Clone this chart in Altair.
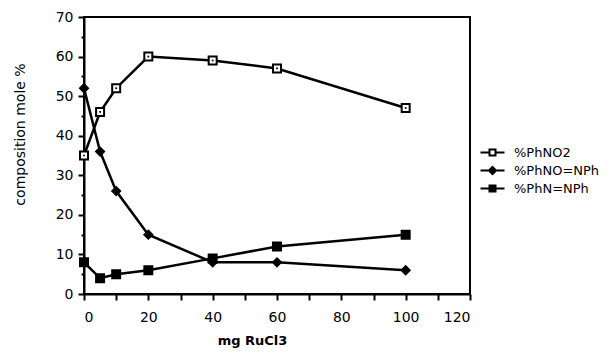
import altair as alt
import pandas as pd

mg = [0, 5, 10, 20, 40, 60, 100]
phno2 = [35, 46, 52, 60, 59, 57, 47]
phno_nph = [52, 36, 26, 15, 8, 8, 6]
phn_nph = [8, 4, 5, 6, 9, 12, 15]
series_names = ["%PhNO2", "%PhNO=NPh", "%PhN=NPh"]

rows = []
for name, vals in zip(series_names, [phno2, phno_nph, phn_nph]):
    for x, v in zip(mg, vals):
        rows.append({"mg": x, "val": v, "series": name})
df = pd.DataFrame(rows)

FONT = "DejaVu Sans"

xenc = alt.X("mg:Q", scale=alt.Scale(domain=[0, 120], nice=False),
             axis=alt.Axis(title="mg RuCl3", values=list(range(0, 121, 10)),
                           labelExpr="datum.value % 20 === 0 ? datum.label : ''",
                           tickSize=6, tickWidth=2, domainWidth=2, domainColor="black",
                           tickColor="black", labelPadding=10, labelFontSize=14,
                           labelFont=FONT, labelColor="black", grid=False,
                           titleFont=FONT, titleFontSize=13, titleFontWeight="bold",
                           titleX=168, titleY=46, titleBaseline="middle", titleColor="black"))
yenc = alt.Y("val:Q", scale=alt.Scale(domain=[0, 70], nice=False),
             axis=alt.Axis(title="composition mole %", values=list(range(0, 71, 5)),
                           labelExpr="datum.value % 10 === 0 ? datum.label : ''",
                           tickSize={"condition": {"test": "datum.value % 10 === 0", "value": 6}, "value": 3},
                           tickWidth=2, domainWidth=2, domainColor="black",
                           tickColor="black", labelPadding=5, labelFontSize=14,
                           labelFont=FONT, labelColor="black", grid=False,
                           titleFont=FONT, titleFontSize=14, titleFontWeight="normal",
                           titleX=-64, titleY=117, titleBaseline="middle", titleColor="black"))

lines = alt.Chart(df).mark_line(color="black", strokeWidth=2.5).encode(
    x=xenc, y=yenc, detail="series:N")

shape_scale = alt.Scale(domain=series_names, range=["square", "diamond", "square"])
fill_scale = alt.Scale(domain=series_names, range=["white", "black", "black"])

points = alt.Chart(df).mark_point(filled=True, stroke="black", strokeWidth=2, size=64, opacity=1).encode(
    x=xenc, y=yenc,
    shape=alt.Shape("series:N", scale=shape_scale, legend=None),
    fill=alt.Fill("series:N", scale=fill_scale, legend=None),
)

dots = alt.Chart(df).transform_filter(alt.datum.series == "%PhNO2").mark_point(
    filled=True, color="black", size=3, shape="square", opacity=1).encode(x=xenc, y=yenc)

legend_def = alt.Legend(title=None, orient="none", legendX=402, legendY=129,
                        labelFont=FONT, labelFontSize=13, labelColor="black",
                        symbolSize=36, symbolStrokeWidth=2,
                        rowPadding=2, labelOffset=15)
leg_shape_scale = alt.Scale(domain=series_names, range=[
    "M-4,0H-1M1,0H4M-1,-1H1V1H-1Z",
    "M-4,0H4M0,-1.2L1.2,0L0,1.2L-1.2,0Z",
    "M-4,0H4M-1,-1H1V1H-1Z",
])
legend_layer = alt.Chart(df).transform_filter("false").mark_point(
    filled=True, strokeWidth=2, opacity=1).encode(
    x=xenc, y=yenc,
    shape=alt.Shape("series:N", scale=leg_shape_scale, legend=legend_def),
    fill=alt.Fill("series:N", scale=fill_scale, legend=legend_def),
    stroke=alt.Stroke("series:N", scale=alt.Scale(domain=series_names, range=["black", "black", "black"]),
                      legend=legend_def),
)

chart = alt.layer(lines, points, dots, legend_layer).resolve_scale(
    shape="independent", fill="independent", stroke="independent"
).properties(
    width=386, height=277, autosize="none",
    padding={"left": 76, "top": 9, "right": 137, "bottom": 55}
).configure_view(stroke="black", strokeWidth=2)

chart.save("out.html", embed_options={"renderer": "svg", "actions": False})
